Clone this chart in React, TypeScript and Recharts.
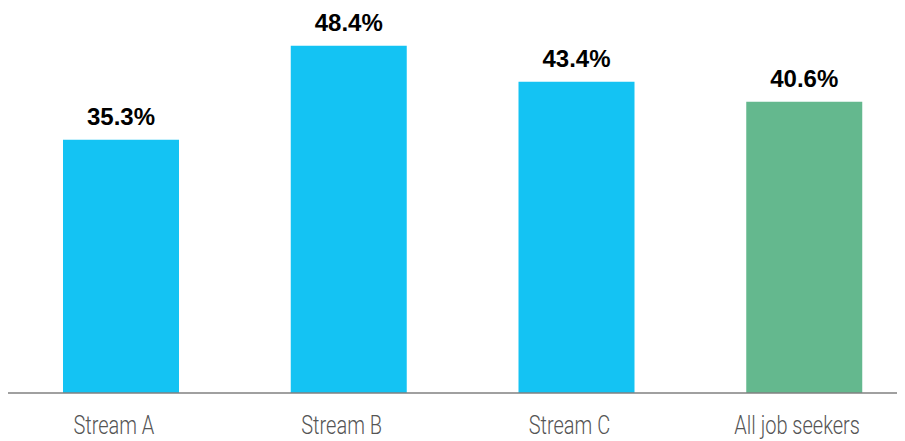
import React from "react";
import { BarChart, Bar, XAxis, YAxis, Cell, LabelList } from "recharts";

const categories = ["Stream A", "Stream B", "Stream C", "All job seekers"];
const values = [35.3, 48.4, 43.4, 40.6];
const colors = ["#14C3F3", "#14C3F3", "#14C3F3", "#64B88E"];

const data = categories.map((name, i) => ({ name, value: values[i] }));

const Tick = (props: any) => {
  const { x, y, payload } = props;
  return (
    <g transform={`translate(${x - 7},${y + 33}) scale(0.8,1)`}>
      <text
        textAnchor="middle"
        fill="#555555"
        fontSize={25}
        fontFamily="Roboto"
        fontWeight={300}
      >
        {payload.value}
      </text>
    </g>
  );
};

export default function App() {
  return (
    <div style={{ margin: "-8px 0 0 -8px", width: 905, height: 441, overflow: "hidden" }}>
      <BarChart
        width={920}
        height={441}
        data={data}
        margin={{ top: 20, right: 2, bottom: 18, left: 7 }}
        barSize={116}
      >
        <YAxis hide domain={[0, 52]} />
        <XAxis
          dataKey="name"
          axisLine={{ stroke: "#808080", strokeWidth: 1.5 }}
          tickLine={false}
          tick={<Tick />}
          height={30}
          interval={0}
        />
        <Bar dataKey="value" isAnimationActive={false}>
          {data.map((d, i) => (
            <Cell key={d.name} fill={colors[i]} />
          ))}
          <LabelList
            dataKey="value"
            position="top"
            offset={15}
            formatter={(v: number) => `${v.toFixed(1)}%`}
            style={{ fill: "#000", fontSize: 24, fontWeight: 700, fontFamily: "'Liberation Sans', Arial, sans-serif" }}
          />
        </Bar>
      </BarChart>
    </div>
  );
}
